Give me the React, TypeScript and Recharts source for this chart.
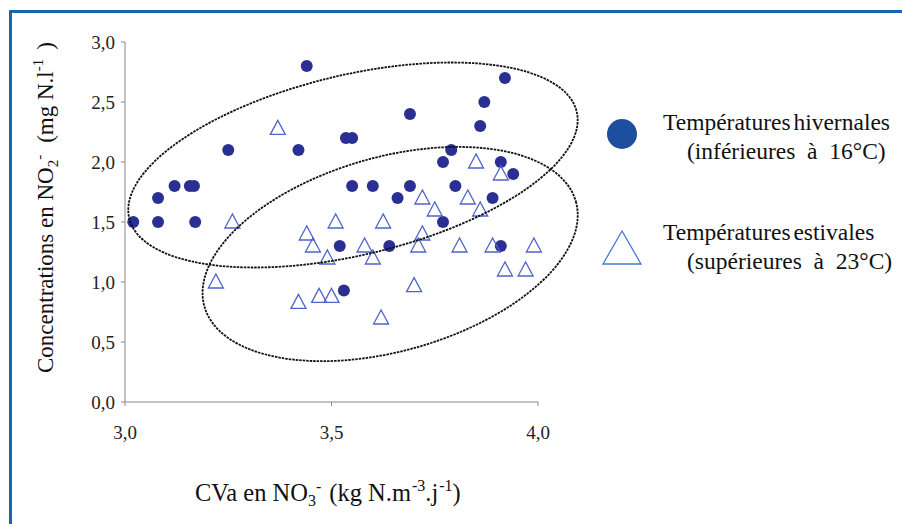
import React from "react";
import { Legend, ReferenceDot, Scatter, ScatterChart, XAxis, YAxis } from "recharts";

// CVa NO3- (x) vs NO2- concentration (y)
const winterPoints = [
  { x: 3.02, y: 1.5 },
  { x: 3.08, y: 1.5 },
  { x: 3.08, y: 1.7 },
  { x: 3.12, y: 1.8 },
  { x: 3.157, y: 1.8 },
  { x: 3.167, y: 1.8 },
  { x: 3.17, y: 1.5 },
  { x: 3.25, y: 2.1 },
  { x: 3.42, y: 2.1 },
  { x: 3.44, y: 2.8 },
  { x: 3.535, y: 2.2 },
  { x: 3.55, y: 2.2 },
  { x: 3.69, y: 2.4 },
  { x: 3.87, y: 2.5 },
  { x: 3.92, y: 2.7 },
  { x: 3.86, y: 2.3 },
  { x: 3.79, y: 2.1 },
  { x: 3.77, y: 2.0 },
  { x: 3.91, y: 2.0 },
  { x: 3.94, y: 1.9 },
  { x: 3.55, y: 1.8 },
  { x: 3.6, y: 1.8 },
  { x: 3.69, y: 1.8 },
  { x: 3.8, y: 1.8 },
  { x: 3.66, y: 1.7 },
  { x: 3.89, y: 1.7 },
  { x: 3.77, y: 1.5 },
  { x: 3.52, y: 1.3 },
  { x: 3.64, y: 1.3 },
  { x: 3.91, y: 1.3 },
  { x: 3.53, y: 0.93 },
];

const summerPoints = [
  { x: 3.37, y: 2.28 },
  { x: 3.26, y: 1.5 },
  { x: 3.22, y: 1.0 },
  { x: 3.44, y: 1.4 },
  { x: 3.455, y: 1.3 },
  { x: 3.49, y: 1.2 },
  { x: 3.51, y: 1.5 },
  { x: 3.42, y: 0.83 },
  { x: 3.47, y: 0.88 },
  { x: 3.5, y: 0.88 },
  { x: 3.625, y: 1.5 },
  { x: 3.72, y: 1.7 },
  { x: 3.75, y: 1.6 },
  { x: 3.83, y: 1.7 },
  { x: 3.86, y: 1.6 },
  { x: 3.85, y: 2.0 },
  { x: 3.91, y: 1.9 },
  { x: 3.58, y: 1.3 },
  { x: 3.6, y: 1.2 },
  { x: 3.71, y: 1.3 },
  { x: 3.72, y: 1.4 },
  { x: 3.81, y: 1.3 },
  { x: 3.89, y: 1.3 },
  { x: 3.99, y: 1.3 },
  { x: 3.92, y: 1.1 },
  { x: 3.97, y: 1.1 },
  { x: 3.7, y: 0.97 },
  { x: 3.62, y: 0.7 },
];

const xTicks = [3, 3.5, 4];
const yTicks = [0, 0.5, 1, 1.5, 2, 2.5, 3];

const seriesNames = ["Températures hivernales", "Températures estivales"];
const seriesNotes = ["(inférieures  à  16°C)", "(supérieures  à  23°C)"];

// centres of the two hand-drawn groupings, in data units
const groupCentres = [
  { x: 3.552, y: 1.975 },
  { x: 3.642, y: 1.233 },
];

const SERIF = "'Liberation Serif', 'Times New Roman', serif";
const DOT = "#2b2f93";
const TRI = "#5064cc";

// drawn size of the ellipses (px) and their tilt
const ellipseLook = [
  { rx: 230, ry: 90, angle: 13.4 },
  { rx: 193, ry: 97, angle: 15.8 },
];

const fmt = (v: number) => v.toFixed(1).replace(".", ",");

const Dot = (p: any) => <circle cx={p.cx} cy={p.cy} r={6} fill={DOT} />;

const Tri = (p: any) => {
  const { cx, cy } = p;
  return (
    <polygon
      points={`${cx},${cy - 8} ${cx - 7.5},${cy + 6} ${cx + 7.5},${cy + 6}`}
      fill="none"
      stroke={TRI}
      strokeWidth={1.3}
    />
  );
};

const ellipseShape = (i: number) => (p: any) => {
  const { rx, ry, angle } = ellipseLook[i];
  return (
    <ellipse
      cx={p.cx}
      cy={p.cy}
      rx={rx}
      ry={ry}
      transform={`rotate(${-angle} ${p.cx} ${p.cy})`}
      fill="none"
      stroke="#111"
      strokeWidth={1.8}
      strokeDasharray="2.5 1"
    />
  );
};

function LegendBox() {
  return (
    <div style={{ fontFamily: SERIF, fontSize: 23.5, color: "#111", lineHeight: "29px" }}>
      {seriesNames.map((name, i) => (
        <div key={name} style={{ position: "relative", height: 110, paddingLeft: 63 }}>
          <svg width={44} height={40} style={{ position: "absolute", left: 0, top: i === 0 ? 6 : 10 }}>
            {i === 0 ? (
              <circle cx={22} cy={20} r={15} fill="#1e4f9e" />
            ) : (
              <polygon points="22,3 3,36 41,36" fill="none" stroke="#4a78cc" strokeWidth={1.3} />
            )}
          </svg>
          <div style={{ whiteSpace: "nowrap", wordSpacing: -3 }}>{name}</div>
          <div style={{ whiteSpace: "pre", paddingLeft: 24 }}>{seriesNotes[i]}</div>
        </div>
      ))}
    </div>
  );
}

export default function App() {
  return (
    <div style={{ position: "absolute", left: 0, top: 0, width: 902, height: 524, background: "#fff" }}>
      <ScatterChart
        width={902}
        height={524}
        margin={{ top: 42, right: 364, bottom: 92, left: 0 }}
        style={{ fontFamily: SERIF }}
      >
        <XAxis
          type="number"
          dataKey="x"
          domain={[3, 4]}
          ticks={xTicks}
          tickFormatter={fmt}
          height={30}
          stroke="#888"
          tickSize={4}
          tickMargin={20}
          tick={{ fill: "#222", fontSize: 19, fontFamily: SERIF }}
        />
        <YAxis
          type="number"
          dataKey="y"
          domain={[0, 3]}
          ticks={yTicks}
          tickFormatter={fmt}
          width={125}
          stroke="#888"
          tickSize={4}
          tickMargin={6}
          tick={{ fill: "#222", fontSize: 19, fontFamily: SERIF }}
        />
        <Scatter name={seriesNames[0]} data={winterPoints} shape={Dot} isAnimationActive={false} />
        <Scatter name={seriesNames[1]} data={summerPoints} shape={Tri} isAnimationActive={false} />
        {groupCentres.map((c, i) => (
          <ReferenceDot key={i} x={c.x} y={c.y} shape={ellipseShape(i)} ifOverflow="visible" />
        ))}
        <Legend
          layout="vertical"
          align="center"
          verticalAlign="middle"
          content={() => <LegendBox />}
          wrapperStyle={{ left: 600, top: 108, width: 302 }}
        />
      </ScatterChart>
      <svg
        width={902}
        height={524}
        style={{ position: "absolute", left: 0, top: 0, pointerEvents: "none", fontFamily: SERIF }}
      >
        <rect x={9} y={10} width={893} height={3} fill="#1b63b5" />
        <rect x={9} y={10} width={3} height={514} fill="#1b63b5" />
        <text transform="translate(53 373) rotate(-90)" fontSize={23} fill="#111">
          Concentrations en NO
          <tspan fontSize={15} dy={5}>2</tspan>
          <tspan fontSize={15} dy={-14}>-</tspan>
          <tspan dx={12} dy={9}>(mg N.l</tspan>
          <tspan fontSize={15} dy={-10}>-1</tspan>
          <tspan dx={9} dy={10}>)</tspan>
        </text>
        <text x={195} y={501} fontSize={24.5} fill="#111">
          CVa en NO
          <tspan fontSize={16} dy={5}>3</tspan>
          <tspan fontSize={16} dy={-14}>-</tspan>
          <tspan dx={8} dy={9}>(kg N.m</tspan>
          <tspan fontSize={16} dx={1} dy={-10}>-3</tspan>
          <tspan dy={10}>.j</tspan>
          <tspan fontSize={16} dx={1} dy={-10}>-1</tspan>
          <tspan dy={10}>)</tspan>
        </text>
      </svg>
    </div>
  );
}
